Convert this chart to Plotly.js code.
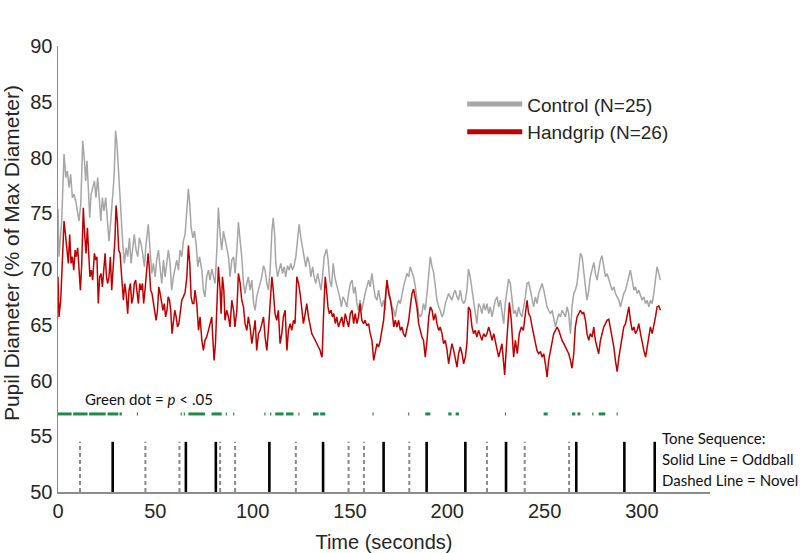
<!DOCTYPE html>
<html>
<head>
<meta charset="utf-8">
<script src="https://cdn.plot.ly/plotly-3.0.1.min.js"></script>
<style>
html,body{margin:0;padding:0;background:#fff;}
#chart{width:800px;height:553px;}
</style>
</head>
<body>
<div id="chart"></div>
<script>
// ---- Data ----
const controlT = [
0,0.5,1.9,3.1,4.0,4.8,5.7,6.5,7.4,8.2,
9.1,10.0,10.8,11.7,12.7,13.6,14.2,14.9,15.6,16.3,
17.0,17.8,18.7,19.5,20.4,21.3,22.0,22.8,23.6,24.5,
25.4,26.2,27.1,27.9,28.8,29.6,30.3,31.0,31.7,32.4,
33.3,34.1,35.0,35.8,36.7,37.5,38.4,39.2,40.1,41.0,
41.8,42.7,43.5,44.4,45.2,46.4,47.3,48.2,49.0,49.9,
50.7,51.6,52.4,53.3,54.2,55.0,55.9,56.7,57.6,58.4,
59.3,60.2,61.0,61.9,62.7,63.6,64.4,65.3,66.2,67.0,
67.7,68.4,69.3,70.1,71.0,71.8,72.7,73.9,74.7,75.5,
76.4,77.3,78.1,79.0,79.9,80.7,81.6,82.4,83.3,84.1,
85.0,85.8,86.7,87.6,88.4,89.3,90.2,91.0,91.9,92.7,
93.6,94.4,95.3,96.1,97.0,97.8,98.7,99.6,100.5,101.3,
102.1,103.0,103.9,104.7,105.6,106.4,107.3,108.1,109.0,109.9,
110.6,111.3,111.9,112.8,113.6,114.5,115.3,116.2,117.0,117.9,
118.8,119.6,120.5,121.3,122.2,123.1,123.9,124.8,125.6,126.5,
127.3,128.2,129.1,129.9,130.8,131.6,132.5,133.4,134.2,135.1,
135.9,136.8,138.0,138.8,139.6,140.5,141.4,142.2,143.0,143.9,
144.7,145.6,146.4,147.3,148.4,149.3,150.2,151.1,151.9,152.7,
153.6,154.4,155.2,156.1,157.0,157.8,158.7,159.6,160.4,161.3,
162.2,163.0,163.9,164.7,165.6,166.4,167.3,168.1,169.0,169.9,
170.8,171.6,172.5,173.3,174.1,175.0,175.9,176.7,177.5,178.4,
179.3,180.2,181.0,181.9,182.7,183.6,184.4,185.3,186.1,187.0,
187.8,188.7,189.6,190.5,191.3,192.2,193.0,193.9,194.7,195.6,
196.4,197.3,198.1,199.0,199.9,200.7,201.5,202.4,203.3,204.1,
205.0,205.8,206.7,207.6,208.4,209.3,210.1,210.9,211.8,212.7,
213.5,214.4,215.2,216.1,217.0,217.8,218.7,219.6,220.4,221.3,
222.1,223.0,223.9,224.7,225.6,226.4,227.3,228.1,229.0,229.8,
230.7,231.5,232.4,233.3,234.1,235.0,235.8,236.7,237.5,238.4,
239.3,240.1,241.0,241.8,242.7,243.6,244.4,245.3,246.1,247.0,
247.9,248.7,249.6,250.4,251.3,252.1,253.0,253.9,254.7,255.6,
256.4,257.3,258.2,259.0,259.9,260.7,261.6,262.4,263.3,264.1,
265.0,265.8,266.7,267.5,268.4,269.3,270.1,271.0,271.8,272.7,
273.5,274.4,275.3,276.1,277.0,277.8,278.7,279.5,280.4,281.3,
282.1,283.0,283.8,284.7,285.6,286.4,287.3,288.2,289.0,289.9,
290.7,291.6,292.4,293.3,294.1,295.0,295.9,296.7,297.6,298.4,
299.3,300.1,301.0,301.9,302.7,303.6,304.4,305.3,306.1,307.0,
307.8,308.7,309.5
];
const controlV = [
75.4,71.1,74.3,80.3,78.2,78.8,77.3,78.5,76.4,76.7,
76.1,75.2,74.3,75.8,81.5,79.7,77.9,79.7,76.4,74.6,
76.7,77.3,77.9,76.4,78.2,76.1,74.3,76.4,75.2,76.4,
74.3,72.5,74.3,75.8,78.2,82.4,81.2,79.1,76.7,74.0,
72.2,70.5,71.9,71.1,72.8,70.5,72.2,73.1,71.7,71.1,
72.8,72.2,71.4,70.2,72.2,74.0,71.7,69.6,70.5,69.3,
70.8,71.7,70.2,68.7,70.8,69.3,70.5,71.7,70.5,68.1,
69.3,70.2,70.8,69.9,71.7,71.1,72.5,73.1,75.2,77.2,
75.8,73.7,72.8,73.4,72.2,70.2,71.1,69.9,68.1,67.5,
69.3,69.9,69.0,70.0,69.3,68.7,71.7,75.5,73.1,71.7,
73.4,72.7,72.2,71.1,69.3,70.8,71.1,69.6,71.7,74.2,
72.5,71.1,68.7,67.8,68.7,69.3,68.1,69.0,66.9,66.3,
67.5,68.1,68.7,69.3,70.3,69.9,68.7,68.1,69.9,73.4,
74.6,73.1,70.5,69.3,69.9,70.5,69.6,70.2,69.3,70.3,
69.9,70.5,69.9,70.3,71.1,72.8,74.0,72.8,71.9,70.8,
70.2,71.1,70.5,69.3,70.2,69.3,68.7,69.6,69.0,68.1,
69.3,71.1,71.8,70.8,69.0,68.4,70.5,69.3,68.7,68.1,
67.5,66.6,67.5,67.2,66.6,67.8,68.7,69.0,67.8,68.4,
66.9,66.3,67.2,66.3,67.2,67.8,68.4,69.0,68.4,69.6,
68.4,67.5,67.2,68.1,67.2,66.6,67.2,66.3,69.0,68.1,
67.2,66.6,66.3,65.7,66.6,67.2,66.9,67.8,68.4,69.0,
69.6,69.3,70.2,69.7,69.3,68.4,67.2,66.0,65.7,66.0,
66.9,66.3,67.8,69.9,71.1,70.2,69.7,68.4,67.2,66.6,
66.3,65.7,66.0,66.9,67.5,67.8,67.5,67.2,67.8,68.1,
67.5,67.2,68.1,67.2,66.9,67.2,68.1,70.0,69.3,68.1,
67.2,65.7,65.1,66.9,66.6,66.0,66.9,66.3,66.9,66.0,
66.6,65.7,66.6,67.2,67.5,66.6,67.2,66.0,65.1,66.9,
68.4,69.1,68.7,67.2,66.0,66.3,65.7,66.6,66.0,65.7,
66.6,67.5,68.7,68.8,68.1,67.2,66.6,67.5,66.9,67.8,
68.4,68.7,68.1,67.2,66.6,66.3,66.0,66.3,65.7,64.8,
65.4,66.0,65.7,66.3,66.0,65.7,66.6,66.0,64.2,66.6,
67.8,68.1,68.7,70.2,71.4,71.1,69.6,68.4,67.2,68.1,
69.3,69.9,70.6,69.6,69.0,69.9,70.8,71.2,70.2,69.3,
69.6,69.0,68.7,68.1,68.4,67.8,67.5,67.2,66.6,67.2,
67.8,68.1,68.7,69.3,69.9,69.0,68.1,68.4,67.8,68.1,
67.5,67.2,67.5,66.9,67.2,66.6,67.2,66.9,67.8,69.0,
70.2,69.6,69.0
];
const handgripT = [
0,0.5,1.4,2.2,3.1,4.0,4.8,5.3,6.0,6.7,
7.4,8.1,8.8,9.4,10.1,10.8,11.5,12.2,13.0,13.7,
14.4,15.1,15.8,16.4,17.1,17.8,18.7,19.4,20.0,20.7,
21.4,22.1,22.8,23.5,24.2,24.9,25.5,26.2,26.9,27.6,
28.5,29.3,29.8,30.5,31.2,31.9,32.7,33.6,34.3,35.0,
35.8,36.5,37.2,37.9,38.6,39.2,39.9,40.6,41.3,42.0,
42.7,43.4,44.0,44.7,45.6,46.3,47.0,47.6,48.3,49.0,
49.7,50.4,51.1,51.8,52.5,53.2,53.9,54.6,55.3,56.0,
56.6,57.3,57.9,58.6,59.3,60.0,60.7,61.4,62.1,62.7,
63.6,64.4,65.3,66.2,67.0,67.7,68.4,69.1,69.8,70.4,
71.3,72.2,73.0,73.9,74.7,75.5,76.4,77.3,78.1,79.0,
79.5,80.2,80.9,81.6,82.4,83.3,83.8,84.5,85.2,85.8,
86.7,87.6,88.4,89.3,90.2,90.9,91.9,92.7,93.6,94.4,
95.3,96.1,97.0,97.8,98.7,99.6,100.5,101.3,102.1,103.0,
103.9,104.7,105.6,106.4,107.3,108.1,109.0,109.9,110.6,111.5,
112.4,113.2,114.1,115.0,115.8,116.7,117.6,118.4,119.3,120.1,
121.0,121.8,122.7,123.6,124.4,125.3,126.1,127.0,127.8,128.7,
129.6,130.4,131.3,132.1,133.0,133.9,134.7,135.2,135.7,136.4,
137.3,138.0,138.7,139.4,140.3,141.0,141.7,142.5,143.2,144.1,
145.0,145.8,146.7,147.6,148.4,149.3,150.2,151.1,151.9,152.7,
153.6,154.4,155.2,156.1,157.0,157.8,158.7,159.6,160.4,161.3,
162.2,163.0,163.9,164.7,165.6,166.4,167.3,168.1,169.0,169.9,
170.8,171.6,172.5,173.3,174.1,175.0,175.9,176.7,177.5,178.4,
179.3,180.2,181.0,181.9,182.7,183.6,184.4,185.3,186.1,187.0,
187.8,188.7,189.6,190.5,191.3,192.2,193.0,193.9,194.7,195.6,
196.4,197.3,198.1,199.0,199.9,200.7,201.5,202.4,203.3,204.1,
205.0,205.8,206.7,207.6,208.4,209.3,210.1,210.9,211.8,212.7,
213.5,214.4,215.2,216.1,217.0,217.8,218.7,219.6,220.4,221.3,
222.1,223.0,223.9,224.7,226.4,228.1,229.5,230.5,231.9,232.9,
234.1,235.0,236.0,237.0,238.1,239.1,240.1,241.0,241.8,242.7,
243.6,244.4,245.3,246.1,247.0,247.9,248.7,249.6,250.4,251.3,
252.1,253.0,253.9,254.7,255.6,256.4,257.3,258.2,259.0,259.9,
260.7,261.6,262.4,263.3,264.1,265.0,265.8,266.7,267.5,268.4,
269.3,270.1,271.0,271.8,272.7,273.5,274.4,275.3,276.1,277.0,
277.8,278.7,279.5,280.4,281.3,282.1,283.0,283.8,284.7,285.6,
286.4,287.3,288.2,289.0,289.9,290.7,291.6,292.4,293.3,294.1,
295.0,295.9,296.7,297.6,298.4,299.3,300.1,301.0,301.9,302.7,
303.6,304.4,305.3,306.1,307.0,307.8,308.7,309.5
];
const handgripV = [
69.3,65.7,67.2,71.4,74.3,72.8,71.7,70.5,73.1,70.5,
71.1,69.9,71.7,71.1,71.9,69.9,68.1,70.5,75.5,73.1,
71.4,73.7,70.5,69.3,69.9,69.0,71.4,70.8,71.1,66.9,
69.3,69.6,68.4,69.6,71.4,69.3,68.7,69.3,71.1,68.1,
70.2,72.8,75.7,74.3,71.7,71.4,69.3,67.2,68.7,67.8,
66.0,68.1,68.7,66.9,67.5,68.7,69.0,68.1,66.9,68.7,
68.1,68.7,66.9,68.1,70.2,71.4,69.9,68.1,67.8,66.9,
66.3,65.4,66.3,68.4,67.8,67.2,66.3,66.9,65.7,66.3,
67.5,67.2,66.3,64.2,65.1,66.3,65.7,64.8,65.1,66.0,
67.2,67.5,67.9,69.3,72.1,70.5,67.5,66.9,66.9,68.1,
66.9,64.5,65.7,63.6,62.7,63.6,63.9,64.5,65.1,65.7,
63.9,61.8,63.3,67.2,70.2,68.1,66.0,69.3,68.1,65.4,
66.3,65.7,64.8,67.2,66.3,64.8,66.3,69.6,68.7,67.2,
66.6,65.1,64.5,65.7,64.8,63.3,64.5,65.4,62.7,64.2,
64.5,65.1,65.7,63.9,62.7,64.5,67.2,69.3,68.1,66.0,
65.4,66.3,63.3,64.2,65.7,66.3,62.7,64.5,65.1,64.5,
65.4,65.1,69.3,68.7,67.8,66.6,65.1,66.0,66.9,65.7,
64.8,64.2,63.9,63.6,63.3,62.9,62.7,62.3,62.1,65.7,
69.3,68.1,66.6,66.0,66.3,65.7,66.0,65.1,65.7,64.8,
65.4,65.7,64.8,66.0,65.4,64.8,66.0,66.3,65.1,66.0,
65.1,65.7,66.9,65.4,65.1,65.4,64.9,65.1,64.2,63.6,
61.8,62.7,63.3,63.0,63.6,64.5,65.4,67.2,69.0,67.8,
67.2,66.3,64.8,65.4,64.8,65.4,64.5,64.8,64.2,63.9,
64.8,65.4,66.6,67.8,68.2,67.5,66.6,65.1,64.5,63.9,
63.6,62.1,63.6,65.7,66.6,66.3,65.4,66.0,65.1,64.5,
64.8,64.2,63.3,63.6,62.7,61.5,62.4,63.3,62.7,61.8,
61.2,62.4,63.0,62.4,61.5,62.1,63.3,66.6,66.3,64.8,
64.2,64.5,63.9,64.5,63.9,63.6,64.2,63.9,64.2,64.8,
64.3,63.6,64.2,63.6,62.1,63.3,60.5,63.3,67.0,65.4,
62.1,63.6,62.4,64.2,64.8,64.5,65.7,67.2,66.0,65.7,
64.8,64.2,63.3,62.7,62.4,62.6,62.1,62.4,61.5,60.3,
61.8,62.7,63.6,64.2,64.5,64.8,64.5,63.9,63.6,63.3,
63.0,62.7,62.4,61.8,61.1,62.4,64.8,65.7,66.0,66.3,
66.0,66.1,65.4,64.2,63.6,64.2,63.9,64.8,63.6,63.0,
62.4,63.6,64.2,64.8,65.1,65.4,65.5,64.8,63.9,63.0,
61.8,60.8,62.1,63.0,64.2,64.8,65.1,65.7,66.6,65.4,
64.5,64.8,64.2,64.5,65.1,64.2,63.3,62.7,62.1,63.0,
64.2,64.8,64.2,64.8,65.7,66.6,66.7,66.3
];
// Tone sequence (seconds)
const oddballTimes = [28.1, 65.7, 81.1, 108.6, 136.2, 167.3, 189.4, 209.3, 230.2, 266.3, 291.0, 306.6];
const novelTimes = [11.3, 44.9, 62.4, 83.3, 91.0, 122.2, 149.3, 157.2, 180.5, 220.4, 239.8, 262.6];
const toneBase = 50, toneTop = 54.5;
// Significant (p < .05) stretches, start / end in seconds
const sigStart = [0, 7.8, 16.0, 25.5, 31.6, 40.5, 63.0, 64.6, 67.0, 78.9, 86.2, 90.0, 106.0, 109.0, 111.6, 117.2, 123.5, 131.0, 134.7, 161.6, 179.9, 188.7, 200.5, 204.3, 229.6, 249.5, 264.1, 266.9, 274.5, 277.8, 287.0];
const sigEnd   = [7.0, 15.2, 24.5, 31.0, 32.8, 41.1, 63.6, 65.2, 75.5, 84.1, 86.8, 90.6, 106.6, 109.6, 115.9, 121.0, 124.1, 133.9, 137.3, 162.2, 180.5, 191.3, 202.2, 206.0, 230.2, 251.6, 265.8, 268.4, 275.1, 281.2, 287.6];
const sigLevel = 57;
const xTicks = [0, 50, 100, 150, 200, 250, 300];
const yTicks = [50, 55, 60, 65, 70, 75, 80, 85, 90];
const seriesNames = ['Control (N=25)', 'Handgrip (N=26)'];
const seriesColors = ['#a6a6a6', '#c00000'];

// ---- Build traces ----
function verticals(times, lo, hi) {
  const x = [], y = [];
  times.forEach(t => { x.push(t, t, null); y.push(lo, hi, null); });
  return {x, y};
}
function segments(starts, ends, level) {
  const x = [], y = [];
  starts.forEach((s, i) => { x.push(s, ends[i], null); y.push(level, level, null); });
  return {x, y};
}
const odd = verticals(oddballTimes, toneBase, toneTop);
const nov = verticals(novelTimes, toneBase, toneTop);
const sig = segments(sigStart, sigEnd, sigLevel);

const traces = [
  {x: nov.x, y: nov.y, mode: 'lines', line: {color: '#8a8a8a', width: 2, dash: '4px,3px'}, showlegend: false, hoverinfo: 'skip'},
  {x: odd.x, y: odd.y, mode: 'lines', line: {color: '#000000', width: 2.6}, showlegend: false, hoverinfo: 'skip'},
  {x: sig.x, y: sig.y, mode: 'lines', line: {color: '#1f8a4c', width: 3}, showlegend: false, hoverinfo: 'skip'},
  {x: controlT, y: controlV, mode: 'lines', line: {color: seriesColors[0], width: 1.5}, showlegend: false},
  {x: handgripT, y: handgripV, mode: 'lines', line: {color: seriesColors[1], width: 1.5}, showlegend: false},
  {x: [null], y: [null], mode: 'lines', name: seriesNames[0], line: {color: seriesColors[0], width: 5}},
  {x: [null], y: [null], mode: 'lines', name: seriesNames[1], line: {color: seriesColors[1], width: 5}}
];

const txt = '#262626';
const noteFont = {family: 'Lato, Open Sans, sans-serif', size: 15, color: '#111'};
const layout = {
  width: 800, height: 553,
  margin: {l: 58, r: 90, t: 46, b: 61},
  paper_bgcolor: '#ffffff', plot_bgcolor: '#ffffff',
  font: {family: 'Liberation Sans, Arial, sans-serif', color: txt, size: 20},
  showlegend: true,
  legend: {x: 0.62, y: 0.912, xanchor: 'left', yanchor: 'top', bgcolor: 'rgba(0,0,0,0)',
           font: {size: 19, color: txt}, itemwidth: 55, tracegroupgap: 0},
  xaxis: {range: [0, 335], tickvals: xTicks, ticktext: xTicks.map(String), showgrid: false, zeroline: false,
          showline: true, linecolor: '#8c8c8c', linewidth: 1.5, ticks: '', tickfont: {size: 20, color: txt},
          title: {text: 'Time (seconds)', font: {size: 20, color: txt}}, fixedrange: true},
  yaxis: {range: [50, 90], tickvals: yTicks, ticktext: yTicks.map(String), showgrid: false, zeroline: false,
          showline: true, linecolor: '#8c8c8c', linewidth: 1.5, ticks: '', tickfont: {size: 20, color: txt},
          fixedrange: true},
  annotations: [
    {x: -0.071, y: 0.535, xref: 'paper', yref: 'paper', xanchor: 'center', yanchor: 'middle', showarrow: false,
     textangle: -90, text: 'Pupil Diameter (% of Max Diameter)', font: {size: 21, color: txt}},
    {x: 12.9, y: 58.3, xref: 'x', yref: 'y', xanchor: 'left', yanchor: 'middle', showarrow: false,
     text: 'Green dot = <i>p</i> &lt; .05', font: noteFont},
    {x: 309.5, y: 54.85, xref: 'x', yref: 'y', xanchor: 'left', yanchor: 'middle', showarrow: false,
     text: 'Tone Sequence:', font: noteFont},
    {x: 309.5, y: 53.0, xref: 'x', yref: 'y', xanchor: 'left', yanchor: 'middle', showarrow: false,
     text: 'Solid Line = Oddball', font: noteFont},
    {x: 309.5, y: 51.05, xref: 'x', yref: 'y', xanchor: 'left', yanchor: 'middle', showarrow: false,
     text: 'Dashed Line = Novel', font: noteFont}
  ]
};
Plotly.newPlot('chart', traces, layout, {staticPlot: true, displayModeBar: false});
</script>
</body>
</html>
